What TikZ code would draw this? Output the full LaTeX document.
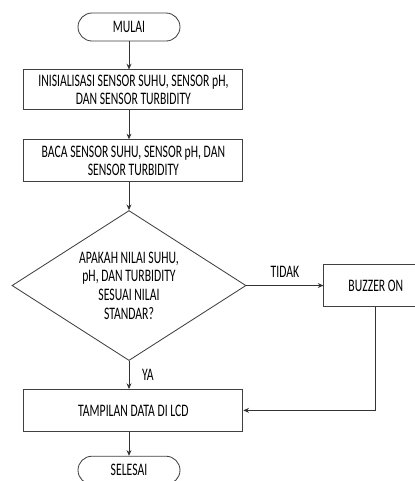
\documentclass[tikz,border=0pt]{standalone}
\usepackage{fontspec}
\setmainfont{Carlito}[FakeStretch=0.665]
\usepackage{tikz}
\usetikzlibrary{shapes,arrows.meta,positioning}
\tikzset{
  term/.style = {draw=black!75, line width=0.6pt, rectangle, rounded corners=0.35cm, minimum height=0.7cm, minimum width=2.55cm, align=center},
  proc/.style = {draw=black!75, line width=0.6pt, rectangle, minimum height=1.05cm, minimum width=5.475cm, align=center},
  dec/.style = {draw=black!75, line width=0.6pt, diamond, aspect=1.56, minimum width=5.85cm, minimum height=3.75cm, inner sep=0pt, align=center},
  arrow/.style = {line width=0.6pt, draw=black!80, -{Stealth[length=4pt, width=3.5pt]}}
}

\begin{document}
\begin{tikzpicture}[font=\fontsize{12.5pt}{13.2pt}\selectfont]
            \useasboundingbox (0,0) rectangle (10.35,-12.025);
            \node[term] (start) at (3.225,-0.675) {MULAI};
            \node[proc, minimum height=1cm, below=0.7cm of start, xshift=0.11cm] (init) {INISIALISASI SENSOR SUHU, SENSOR pH,\\ DAN SENSOR TURBIDITY};
            \node[proc, below=0.725cm of init] (read) {BACA SENSOR SUHU, SENSOR pH, DAN\\ SENSOR TURBIDITY};
            \node[dec, below=0.7cm of read, xshift=-0.11cm] (check) {APAKAH NILAI SUHU,\\ pH, DAN TURBIDITY\\ SESUAI NILAI\\ STANDAR?};
            \node[proc, below=0.7cm of check, xshift=0.11cm] (lcd) {TAMPILAN DATA DI LCD};
            \node[term, below=0.6cm of lcd, xshift=-0.11cm] (stop) {SELESAI};
            \node[proc, minimum width=2.6cm, right=1.925cm of check] (buzz) {BUZZER ON};
            \draw[arrow] (start) -- (start |- init.north);
            \draw[arrow] (start |- init.south) -- (start |- read.north);
            \draw[arrow] (start |- read.south) -- (check);
            \draw[arrow] (check) -- node[above=2pt] {TIDAK} (buzz);
            \draw[arrow] (check) -- node[right=0.2cm] {YA} (check |- lcd.north);
            \draw[arrow] (buzz) |- (lcd);
            \draw[arrow] (check |- lcd.south) -- (stop);
        \end{tikzpicture}
\end{document}
